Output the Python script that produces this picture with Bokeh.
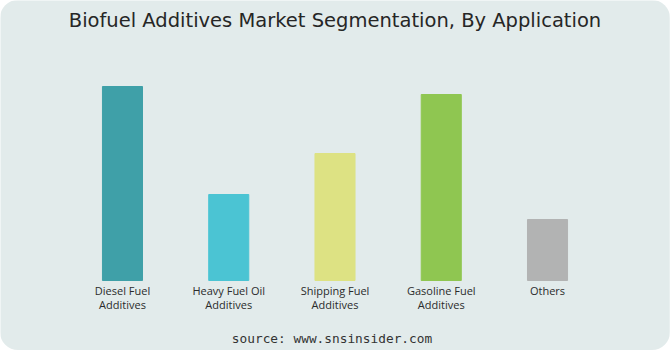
from bokeh.plotting import figure
from bokeh.models import Range1d, FactorRange, ColumnDataSource
from bokeh.core.properties import value
from bokeh.embed import file_html
from bokeh.resources import INLINE

categories = ["Diesel Fuel Additives", "Heavy Fuel Oil Additives", "Shipping Fuel Additives",
              "Gasoline Fuel Additives", "Others"]
label_line1 = ["Diesel Fuel", "Heavy Fuel Oil", "Shipping Fuel", "Gasoline Fuel", "Others"]
label_line2 = ["Additives", "Additives", "Additives", "Additives", ""]
values = [194, 86, 127, 186, 61]
colors = ["#3fa0a8", "#4bc4d3", "#dde283", "#8fc651", "#b2b3b3"]

BG = "#e2ebeb"

p = figure(width=670, height=350, output_backend="svg", toolbar_location=None,
           x_range=FactorRange(*categories, range_padding=0.648, range_padding_units="absolute"),
           y_range=Range1d(-70, 280),
           min_border=0, min_border_left=0, min_border_right=1, min_border_top=0, min_border_bottom=0)
p.background_fill_color = BG
p.border_fill_color = BG
p.outline_line_color = None
p.axis.visible = False
p.grid.visible = False
p.styles = {"border-radius": "18px", "overflow": "hidden"}

src = ColumnDataSource(dict(cat=categories, val=values, color=colors, l1=label_line1, l2=label_line2))
p.vbar(x="cat", top="val", bottom=0, width=0.377, color="color", source=src)

p.text(x="cat", y=-2, text="l1", source=src, text_align="center", text_baseline="top",
       text_font=value("Open Sans"), text_font_size="11px", text_color="#2b2b2b")
p.text(x="cat", y=-16, text="l2", source=src, text_align="center", text_baseline="top",
       text_font=value("Open Sans"), text_font_size="11px", text_color="#2b2b2b")

p.text(x=[categories[2]], y=[260.5], text=["Biofuel Additives Market Segmentation, By Application"],
       text_align="center", text_baseline="middle", x_offset=0,
       text_font=value("DejaVu Sans"), text_font_size="19.5px", text_color="#262626")
p.text(x=[categories[2]], y=[-58], text=["source: www.snsinsider.com"],
       text_align="center", text_baseline="middle", x_offset=-3,
       text_font=value("DejaVu Sans Mono"), text_font_size="12.8px", text_color="#333333")

open("out.html", "w").write(file_html(p, INLINE))
